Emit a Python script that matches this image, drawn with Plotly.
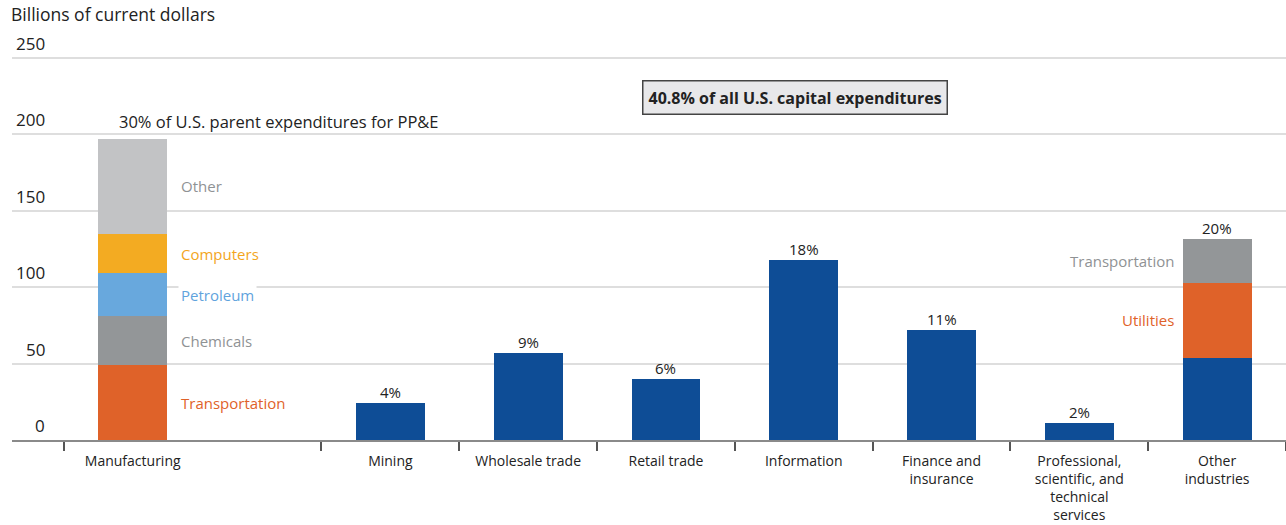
"""Capital expenditures of U.S. parents by industry, stacked bar chart."""

import numpy as np
import plotly.graph_objects as go

# ---- data -------------------------------------------------------------
categories = [
    "Manufacturing",
    "Mining",
    "Wholesale trade",
    "Retail trade",
    "Information",
    "Finance and<br>insurance",
    "Professional,<br>scientific, and<br>technical<br>services",
    "Other<br>industries",
]
shares = ["30%", "4%", "9%", "6%", "18%", "11%", "2%", "20%"]

manuf_segments = ["Transportation", "Chemicals", "Petroleum", "Computers", "Other"]
manuf_values = [49, 32, 28, 26, 62]

single_values = [24.4, 57.1, 40.1, 117.8, 72, 10.9]  # Mining .. Professional

other_segments = ["All other", "Utilities", "Transportation"]
other_values = [54, 48.5, 29]

y_ticks = [0, 50, 100, 150, 200, 250]

# ---- layout helpers ---------------------------------------------------
# manufacturing sits in a wider slot, the others one unit apart
x_pos = [0.13, 2, 3, 4, 5, 6, 7, 8]
slot_edges = [-0.37, 1.5, 2.5, 3.5, 4.5, 5.5, 6.5, 7.5, 8.5]
BAR_W = 0.5

NAVY = "#0e4d96"
manuf_colors = ["#df6229", "#939698", "#68a8dd", "#f3ab22", "#c2c3c5"]
manuf_text_colors = ["#df6229", "#8f9294", "#5fa3dd", "#f3a51c", "#8f9294"]
other_colors = [NAVY, "#df6229", "#939698"]
other_text_colors = [None, "#df6229", "#8f9294"]

FONT = "Open Sans, sans-serif"
FS = 15

fig = go.Figure()

# manufacturing stack
for name, val, col in zip(manuf_segments, manuf_values, manuf_colors):
    fig.add_trace(go.Bar(x=[x_pos[0]], y=[val], name=name, marker_color=col,
                         width=BAR_W, marker_line_width=0))

# single-colour bars
fig.add_trace(go.Bar(x=x_pos[1:7], y=single_values, marker_color=NAVY,
                     width=BAR_W, marker_line_width=0))

# other industries stack
for name, val, col in zip(other_segments, other_values, other_colors):
    fig.add_trace(go.Bar(x=[x_pos[7]], y=[val], name=name, marker_color=col,
                         width=BAR_W, marker_line_width=0))

annotations = []

# segment labels beside the manufacturing bar
m_cum = np.cumsum(manuf_values)
for name, val, top, col in zip(manuf_segments, manuf_values, m_cum, manuf_text_colors):
    annotations.append(dict(
        x=x_pos[0] + BAR_W / 2, y=top - val / 2, text=name, showarrow=False,
        xanchor="left", xshift=11, font=dict(size=FS, color=col),
        bgcolor="white" if name == "Petroleum" else None, borderpad=2,
    ))

# segment labels beside the other-industries bar
o_cum = np.cumsum(other_values)
for name, val, top, col in zip(other_segments, other_values, o_cum, other_text_colors):
    if col is None:
        continue
    annotations.append(dict(
        x=x_pos[7] - BAR_W / 2, y=top - val / 2, text=name, showarrow=False,
        xanchor="right", xshift=-7, font=dict(size=FS, color=col),
    ))

# share labels on top of bars
totals = [m_cum[-1]] + single_values + [o_cum[-1]]
for i, (xp, tot, sh) in enumerate(zip(x_pos, totals, shares)):
    if i == 0:
        annotations.append(dict(
            x=xp - BAR_W / 2, y=tot, text=sh + " of U.S. parent expenditures for PP&E",
            showarrow=False, xanchor="left", yanchor="bottom", xshift=19, yshift=4,
            font=dict(size=16.5, color="#222"),
        ))
    else:
        annotations.append(dict(
            x=xp, y=tot, text=sh, showarrow=False, yanchor="bottom", yshift=-1,
            font=dict(size=FS, color="#222"),
        ))

# y tick labels sit above the gridlines
for t in y_ticks:
    annotations.append(dict(
        x=0, xref="paper", y=t, text=str(t), showarrow=False,
        xanchor="right", yanchor="bottom", xshift=35, yshift=1,
        font=dict(size=17, color="#222"),
    ))

# axis title and callout box
annotations.append(dict(
    x=0, xref="paper", y=1, yref="paper", text="Billions of current dollars",
    showarrow=False, xanchor="left", yanchor="bottom", yshift=27, xshift=-3,
    font=dict(size=17.5, color="#222"),
))
annotations.append(dict(
    x=4.94, y=224, text="<b>40.8% of all U.S. capital expenditures</b>",
    showarrow=False, font=dict(size=16, color="#222"),
    bgcolor="#e8e8ea", bordercolor="#444", borderwidth=1.5, borderpad=5,
))

fig.update_layout(
    barmode="stack",
    width=1286, height=525,
    margin=dict(l=12, r=0, t=55, b=85),
    plot_bgcolor="white", paper_bgcolor="white",
    showlegend=False,
    font=dict(family=FONT, size=FS, color="#222"),
    annotations=annotations,
    xaxis=dict(
        range=[-0.746, 8.5], tickvals=x_pos, ticktext=categories,
        ticks="", showgrid=False, zeroline=False, automargin=False,
        showline=True, linecolor="#8a8a8a", linewidth=2,
        ticklabelstandoff=7, tickfont=dict(size=14, color="#222"),
        minor=dict(tickvals=slot_edges, ticks="outside", ticklen=9,
                   tickcolor="#555", tickwidth=1.5, showgrid=False),
    ),
    yaxis=dict(
        range=[0, 252], tickvals=y_ticks, showticklabels=False, automargin=False,
        showgrid=True, gridcolor="#dedede", gridwidth=2, zeroline=False,
    ),
)

# the page's default body margin would push the fixed-size figure off the window
fig.write_html("out.html", config={"displayModeBar": False},
               post_script="document.body.style.margin='0';")
